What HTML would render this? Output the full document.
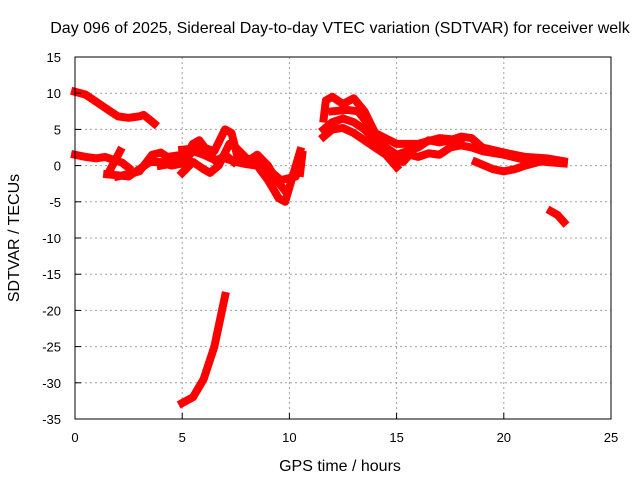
<!DOCTYPE html>
<html><head><meta charset="utf-8"><style>
body{margin:0;background:#fff;}
svg text{font-family:"Liberation Sans",sans-serif;font-size:13px;fill:#000;}
svg text.big{font-size:16px;}
</style></head><body>
<svg id="chart" width="640" height="480">
<text class="big" x="340" y="33" text-anchor="middle">Day 096 of 2025, Sidereal Day-to-day VTEC variation (SDTVAR) for receiver welk</text>
<text class="big" x="340" y="471" text-anchor="middle">GPS time / hours</text>
<text class="big" transform="translate(19,238) rotate(-90)" text-anchor="middle">SDTVAR / TECUs</text>
<g id="grid"></g><g id="series"></g>
<rect x="75" y="57" width="536" height="362" fill="none" stroke="#000" stroke-width="1"/>
<g id="axes"></g>
</svg>
<script>
const xTicks=[0,5,10,15,20,25];
const yTicks=[15,10,5,0,-5,-10,-15,-20,-25,-30,-35];
const trackA=[[0,10.2],[0.5,9.8],[1,8.8],[1.5,7.8],[2,6.8],[2.5,6.6],[3,6.8],[3.2,7.0],[3.5,6.3],[3.7,5.8]];
const trackB1=[[0,1.5],[0.5,1.2],[1,1.0],[1.4,1.2],[1.8,0.8],[2.2,0.4],[2.5,-0.3]];
const trackB2=[[1.5,-1.2],[2.5,-1.5],[3,-0.5],[3.5,0.5],[4,0.5],[4.5,0],[5,0.3],[5.5,2],[6,1.5],[6.5,0.8],[7,1],[7.5,0.5],[8,0.2],[8.5,0],[9,-2],[9.5,-4.5],[9.8,-5],[10,-3],[10.3,0],[10.5,2]];
const trackB3=[[1.6,-0.8],[2.1,2.0]];
const trackB4=[[2,-1.5],[3,-0.8],[3.6,1.5],[4,1.8],[4.3,1.2],[5,1.5]];
const trackB5=[[5,2.2],[6,2.5],[6.5,2.0],[7,5.0],[7.3,4.5],[7.6,1.0],[8,0.5],[8.5,1.5],[9,0],[9.4,-2],[9.8,-3.5]];
const trackB6=[[4,0],[5,0.5],[5.5,3],[5.8,3.5],[6.3,1.5],[6.6,0.5],[7,1.5],[7.4,0.5]];
const trackB7=[[5,-1],[5.5,0.5],[6,-0.5],[6.3,-1],[6.7,0],[7.2,3],[7.5,2.5],[8,1],[8.5,0.5],[9.2,-1],[9.6,-2],[10.3,-1.5],[10.5,1]];
const trackG=[[5,-32.8],[5.5,-32],[6,-29.5],[6.5,-25],[7,-18]];
const trackC1=[[11.6,6.5],[11.7,9],[12,9.5],[12.5,8.5],[13,9.3],[13.5,7.5],[14,4.5],[14.5,2.5],[15,1.5],[15.5,2],[16,2.5],[16.5,3.5],[17,3.2],[17.5,3.5],[18,4],[18.5,3.8],[19,2.5],[20,1.8],[21,1.2],[22,1],[22.8,0.6]];
const trackC2=[[11.6,5],[12,6],[12.5,6.5],[13,6],[13.5,5],[14,3.5],[14.5,2],[15,1],[15.3,0.5],[15.6,1.5],[16,1.2],[16.5,1.7],[17,1.5],[17.5,2.5],[18,2.8],[18.5,2.5],[19,2],[20,1.5],[21,0.8],[22,0.5],[22.8,0.3]];
const trackC3=[[11.6,4],[12,5],[12.5,5.2],[13,4.5],[14,2.5],[14.5,1.5],[15,-0.2]];
const trackC4=[[12,7.5],[12.7,7.7],[13.2,7.5],[14,4.5],[15,3],[16,3],[17,3.8],[18,3.5]];
const trackD=[[18.7,0.5],[19.5,-0.5],[20,-0.8],[20.5,-0.5],[21,0],[22,0.8]];
const trackE=[[22.2,-6.3],[22.5,-6.8],[22.8,-7.8]];
const trackF=[[10.5,-1],[10.6,1.5]];
const tracks=[trackA,trackB1,trackB2,trackB3,trackB4,trackB5,trackB6,trackB7,trackG,trackC1,trackC2,trackC3,trackC4,trackD,trackE,trackF];
const X=t=>75+t*536/25, Y=v=>57+(15-v)*362/50;
const NS="http://www.w3.org/2000/svg";
const grid=document.getElementById('grid'),axes=document.getElementById('axes'),ser=document.getElementById('series');
function mk(tag,attrs,parent){const e=document.createElementNS(NS,tag);for(const k in attrs)e.setAttribute(k,attrs[k]);parent.appendChild(e);return e;}
xTicks.forEach(t=>{
 if(t>0&&t<25){const g=mk('line',{x1:X(t),x2:X(t),y1:57,y2:419,stroke:'#a0a0a0','stroke-dasharray':'2,3'},grid);
 
 }
 const tk=mk('line',{x1:X(t),x2:X(t),y1:419,y2:413,stroke:'#000'},axes);
 
 
 const tx=mk('text',{x:X(t),y:442,'text-anchor':'middle'},axes);tx.textContent=t;
 
 
});
yTicks.forEach(v=>{
 if(v<15&&v>-35){const g=mk('line',{x1:75,x2:611,y1:Y(v),y2:Y(v),stroke:'#a0a0a0','stroke-dasharray':'2,3'},grid);
 
 }
 const tk=mk('line',{x1:75,x2:81,y1:Y(v),y2:Y(v),stroke:'#000'},axes);
 
 
 const tx=mk('text',{x:61,y:Y(v)+5,'text-anchor':'end'},axes);tx.textContent=v;
 
 
});
tracks.forEach(tr=>{
 const p=mk('polyline',{points:tr.map(d=>X(d[0])+','+Y(d[1])).join(' '),fill:'none',stroke:'#ff0000','stroke-width':8,'stroke-linejoin':'round','stroke-linecap':'square'},ser);
 
 
});
</script>
</body></html>
